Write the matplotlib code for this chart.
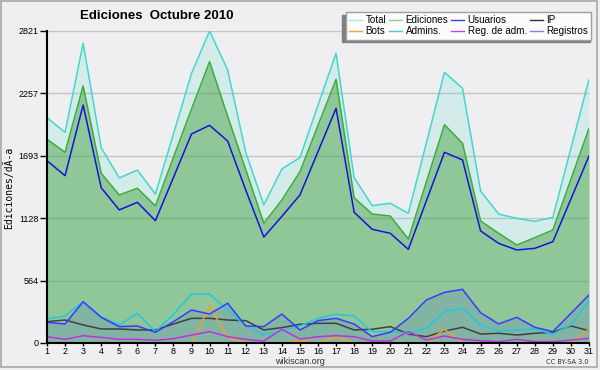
import matplotlib
matplotlib.use("Agg")
import matplotlib.pyplot as plt
from matplotlib.lines import Line2D
from matplotlib.patches import Rectangle

days = list(range(1, 32))
total = [2037, 1905, 2710, 1766, 1492, 1564, 1347, 1890, 2438, 2821, 2468, 1725, 1248, 1573, 1676,
         2150, 2619, 1495, 1242, 1263, 1173, 1810, 2447, 2303, 1374, 1166, 1127, 1100, 1136, 1760, 2384]
ediciones = [1842, 1724, 2324, 1534, 1338, 1399, 1239, 1679, 2116, 2544, 2050, 1567, 1082, 1293, 1549,
             1967, 2384, 1314, 1166, 1148, 940, 1457, 1974, 1806, 1103, 992, 886, 952, 1022, 1481, 1941]
usuarios = [1648, 1513, 2152, 1404, 1203, 1272, 1106, 1497, 1890, 1968, 1826, 1383, 958, 1145, 1338,
            1730, 2122, 1182, 1028, 992, 847, 1286, 1724, 1655, 1013, 901, 841, 856, 916, 1302, 1691]
ip = [193, 208, 163, 127, 127, 118, 118, 172, 223, 223, 208, 202, 118, 139, 169,
      178, 178, 118, 124, 148, 81, 57, 108, 142, 81, 88, 72, 88, 97, 154, 111]
bots = [0, 0, 0, 0, 0, 0, 0, 0, 0, 335, 51, 0, 0, 0, 20,
        0, 55, 0, 0, 0, 0, 0, 124, 0, 0, 0, 0, 0, 0, 0, 124]
admins = [217, 244, 373, 238, 163, 268, 103, 259, 443, 443, 298, 156, 72, 111, 154,
          223, 259, 244, 103, 103, 88, 133, 283, 314, 163, 108, 118, 127, 81, 163, 383]
reg_adm = [57, 33, 66, 51, 33, 33, 24, 39, 72, 103, 57, 33, 18, 124, 36,
           57, 66, 57, 18, 18, 103, 27, 63, 33, 21, 12, 33, 12, 12, 27, 42]
registros = [187, 172, 373, 232, 148, 154, 97, 193, 298, 262, 359, 154, 148, 262, 118,
             202, 223, 172, 57, 97, 223, 389, 458, 485, 274, 172, 232, 142, 103, 268, 434]

yticks = [0, 564, 1128, 1693, 2257, 2821]
title = "Ediciones  Octubre 2010"
ylabel = "Ediciones/dÃ-a"
legend_labels = ["Total", "Bots", "Ediciones", "Admins.", "Usuarios", "Reg. de adm.", "IP", "Registros"]

W, H = 600, 370
fig = plt.figure(figsize=(6, 3.7), dpi=100, facecolor="#efeff1")
ax = fig.add_axes([47 / W, 1 - 343 / H, (589 - 47) / W, (343 - 31) / H])
ax.set_facecolor("#efeff1")

# figure border
fig.patches.append(Rectangle((1 / W, 1 - 367 / H), 596 / W, 366 / H, transform=fig.transFigure,
                             fill=False, edgecolor="#a8a8a8", linewidth=1.2, zorder=0))

# grid
for yv in yticks:
    ax.axhline(yv, color="#c4c4c4", linewidth=1.0, zorder=0.5)

ax.fill_between(days, 0, total, color="#40e0c0", alpha=0.15, linewidth=0, zorder=1)
ax.fill_between(days, 0, ediciones, color="#4ba34a", alpha=0.5, linewidth=0, zorder=1.1)
ax.fill_between(days, 0, registros, color="#4a6ad0", alpha=0.2, linewidth=0, zorder=1.2)

lw = 1.1
ax.plot(days, total, color="#40d8cc", lw=lw, zorder=3)
ax.plot(days, ediciones, color="#3cac3c", lw=lw, zorder=3)
ax.plot(days, usuarios, color="#1414d8", lw=lw, zorder=3)
ax.plot(days, ip, color="#404040", lw=lw, zorder=3)
ax.plot(days, bots, color="#f0a030", lw=lw, zorder=3)
ax.plot(days, admins, color="#20c8e0", lw=lw, zorder=3)
ax.plot(days, reg_adm, color="#c030e0", lw=lw, zorder=3)
ax.plot(days, registros, color="#3a3aff", lw=lw, zorder=3)

ax.set_xlim(1, 31)
ax.set_ylim(0, 2821)
ax.set_xticks(days)
ax.set_xticklabels([str(d) for d in days], fontsize=6.5, family="Liberation Sans")
ax.set_yticks(yticks)
ax.set_yticklabels([str(v) for v in yticks], fontsize=6.5, family="Liberation Sans")
ax.tick_params(axis="y", length=5, width=1, pad=1, colors="black")
ax.tick_params(axis="x", length=2, width=1, pad=1)
for s in ["top", "right"]:
    ax.spines[s].set_visible(False)
for s in ["left", "bottom"]:
    ax.spines[s].set_linewidth(1.5)
    ax.spines[s].set_zorder(4)

fig.text(157 / W, 1 - 16 / H, title, ha="center", va="center", fontsize=9.5,
         fontweight="bold", family="Liberation Sans")
fig.text(9 / W, 1 - 188 / H, ylabel, rotation=90, ha="center", va="center", fontsize=7,
         family="DejaVu Sans Mono")
fig.text(300 / W, 1 - 361 / H, "wikiscan.org", ha="center", va="center", fontsize=6.5,
         family="Liberation Sans", color="#303030")
fig.text(589 / W, 1 - 362 / H, "CC BY-SA 3.0", ha="right", va="center", fontsize=4.8,
         family="DejaVu Sans", color="#303030")

handle_colors = ["#a8e8e0", "#f0a040", "#90d090", "#40c8e0", "#4040e0", "#d040e0", "#303030", "#8080f0"]
handles = [Line2D([], [], color=c, lw=1.0) for c in handle_colors]
leg = fig.legend(handles, legend_labels, ncol=4, loc="upper left",
                 bbox_to_anchor=(346 / W, 1 - 12 / H), borderaxespad=0,
                 prop={"family": "Liberation Sans", "size": 7.1},
                 handlelength=1.3, handletextpad=0.35, columnspacing=0.3,
                 labelspacing=0.1, borderpad=0.35, frameon=True, fancybox=False)
leg.get_frame().set_facecolor("#fcfcfc")
leg.get_frame().set_edgecolor("#a0a0a0")
leg.get_frame().set_alpha(1)
leg.set_zorder(10)
fig.patches.append(Rectangle((342 / W, 1 - 42 / H), (590 - 342) / W, (42 - 15) / H,
                             transform=fig.transFigure, color="#808080", zorder=9))

fig.savefig("out.png", dpi=100, facecolor=fig.get_facecolor())
